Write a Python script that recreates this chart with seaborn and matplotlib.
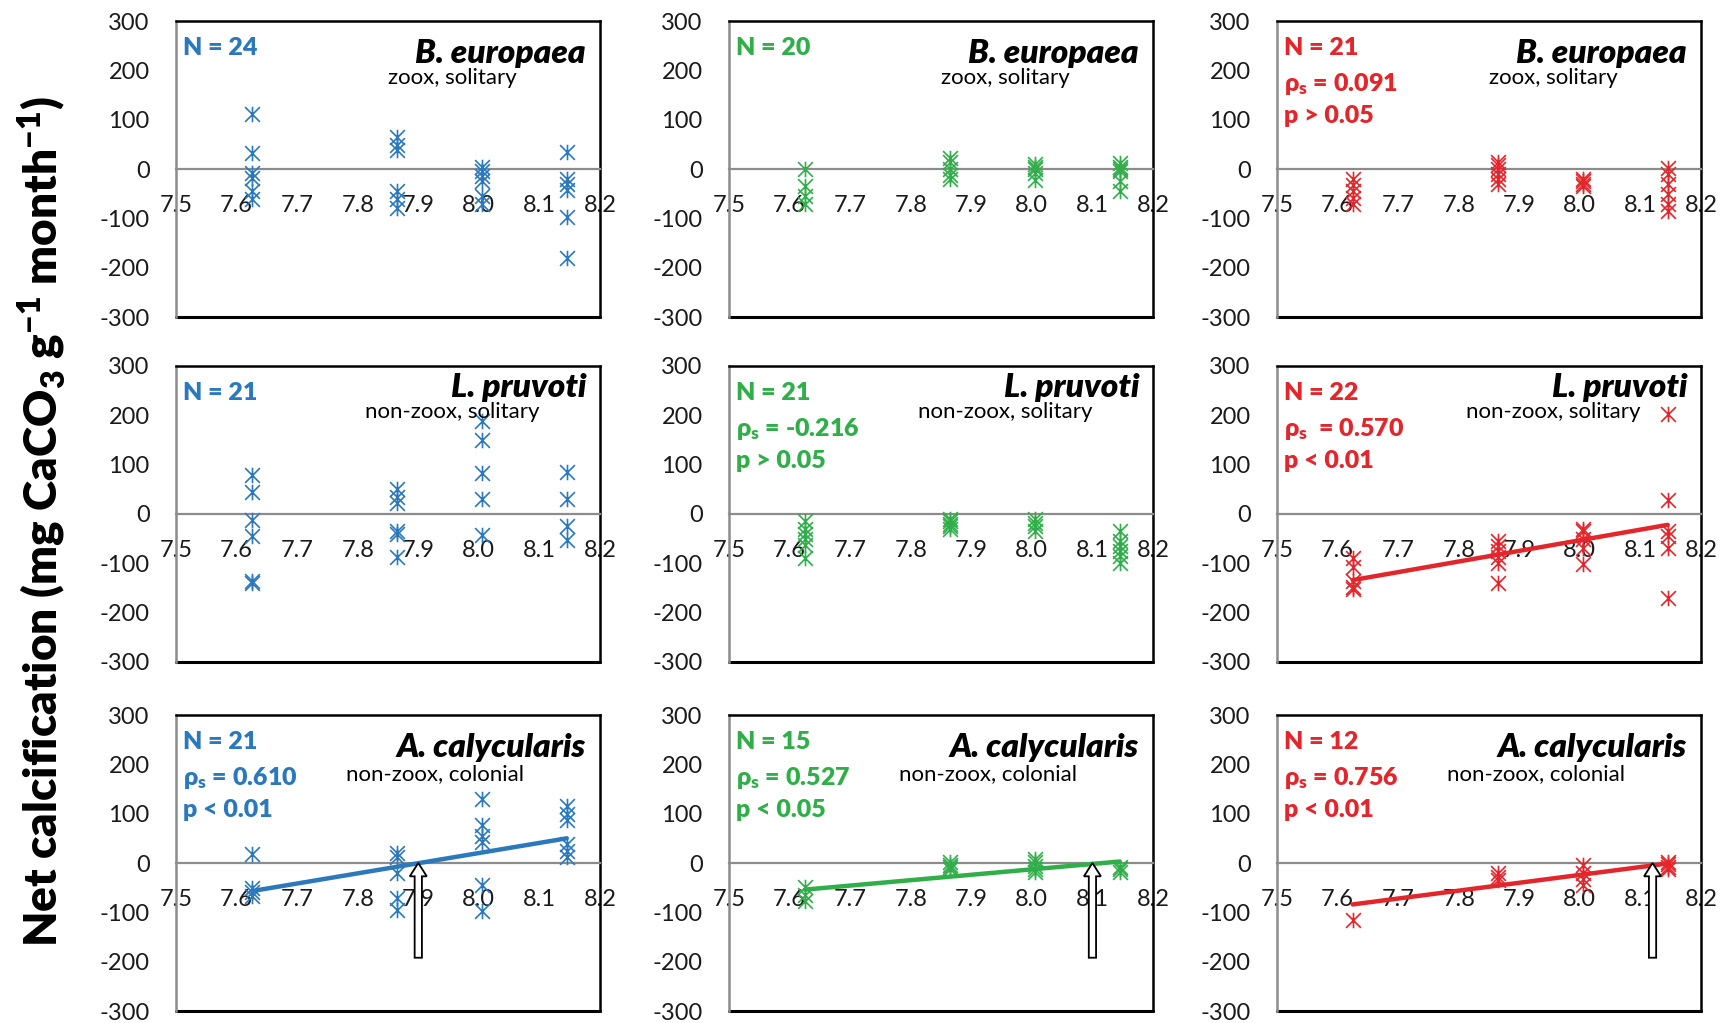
import numpy as np
import pandas as pd
import matplotlib
matplotlib.use("Agg")
import matplotlib.pyplot as plt
from matplotlib.path import Path
import seaborn as sns

# ── Data ──────────────────────────────────────────────────────────────────────

PH_LEVELS = [7.625, 7.865, 8.005, 8.145]
X_TICKS = [7.5, 7.6, 7.7, 7.8, 7.9, 8.0, 8.1, 8.2]
Y_TICKS = [-300, -200, -100, 0, 100, 200, 300]

# net calcification per pH level, one list per level
BE_BLUE = [[111, 33, -8, -18, -45, -60], [65, 48, 38, -45, -60, -80],
           [5, -5, -15, -25, -55, -70], [35, -20, -30, -42, -98, -180]]
BE_GREEN = [[0, -35, -55, -70], [22, 15, 0, -12, -20],
            [10, 5, 0, -8, -22], [12, 5, 0, -5, -25, -45]]
BE_RED = [[-20, -32, -45, -58, -70], [15, 8, 0, -10, -20, -30],
          [-20, -25, -30, -35], [2, -10, -30, -50, -70, -85]]
LP_BLUE = [[80, 45, -12, -45, -135, -140], [50, 35, 22, -35, -40, -88],
           [188, 150, 84, 30, -42], [85, 30, -25, -52]]
LP_GREEN = [[-15, -30, -40, -50, -62, -90], [-10, -15, -20, -25, -30],
            [-10, -18, -25, -35], [-35, -55, -65, -75, -85, -100]]
LP_RED = [[-90, -108, -135, -148, -152], [-55, -65, -75, -88, -100, -140],
          [-30, -35, -50, -68, -102], [202, 28, -35, -45, -68, -170]]
AC_BLUE = [[18, -50, -58, -66], [20, 12, -20, -70, -95],
           [130, 78, 55, 42, -45, -98], [115, 100, 88, 38, 25, 12]]
AC_GREEN = [[-48, -65, -78], [2, -5, -8, -12],
            [8, 3, -6, -12, -18], [-8, -12, -18]]
AC_RED = [[-115], [-20, -28, -35], [-5, -20, -32, -45], [2, -3, -8, -12]]

# linear trend lines (value at first and last pH level)
TREND_X = [7.625, 8.145]
LP_RED_TREND = [-134, -22]
AC_BLUE_TREND = [-57, 50]
AC_GREEN_TREND = [-54, 3]
AC_RED_TREND = [-84, -1]

# pH where the trend crosses zero (arrows in the bottom row)
ARROW_PH = [7.90, 8.10, 8.12]

SPECIES = ["B. europaea", "L. pruvoti", "A. calycularis"]
TRAITS = ["zoox, solitary", "non-zoox, solitary", "non-zoox, colonial"]

STATS = [
    [["N = 24"], ["N = 20"], ["N = 21", "ρ$_\\mathbf{s}$ = 0.091", "p > 0.05"]],
    [["N = 21"], ["N = 21", "ρ$_\\mathbf{s}$ = -0.216", "p > 0.05"],
     ["N = 22", "ρ$_\\mathbf{s}$  = 0.570", "p < 0.01"]],
    [["N = 21", "ρ$_\\mathbf{s}$ = 0.610", "p < 0.01"],
     ["N = 15", "ρ$_\\mathbf{s}$ = 0.527", "p < 0.05"],
     ["N = 12", "ρ$_\\mathbf{s}$ = 0.756", "p < 0.01"]],
]

PANELS = [
    [BE_BLUE, BE_GREEN, BE_RED],
    [LP_BLUE, LP_GREEN, LP_RED],
    [AC_BLUE, AC_GREEN, AC_RED],
]
TRENDS = {(1, 2): LP_RED_TREND, (2, 0): AC_BLUE_TREND,
          (2, 1): AC_GREEN_TREND, (2, 2): AC_RED_TREND}

# ── Style ─────────────────────────────────────────────────────────────────────

COLORS = ["#2B78BD", "#2FAE4A", "#E3262B"]
GRAY = "#8C8C8C"
STAR = Path([(-1, -1), (1, 1), (-1, 1), (1, -1), (0, -1.05), (0, 1.05)],
            [Path.MOVETO, Path.LINETO, Path.MOVETO, Path.LINETO,
             Path.MOVETO, Path.LINETO])

sns.set_theme(style="white")
plt.rcParams["font.family"] = ["Lato", "DejaVu Sans"]
plt.rcParams["mathtext.fontset"] = "custom"
plt.rcParams["mathtext.rm"] = "Lato"
plt.rcParams["mathtext.bf"] = "Lato:heavy"
plt.rcParams["mathtext.it"] = "Lato:italic"

W, H = 1729, 1023
COL_LEFT = [176, 729, 1277]
ROW_TOP = [21, 366, 715]
AX_W, AX_H = 424, 296
TRAIT_POS = [(0.652, 0.84), (0.652, 0.88), (0.61, 0.835)]
NAME_TOP = [0.94, 0.975, 0.94]


def to_frame(values: list[list[float]]) -> pd.DataFrame:
    rows = [(ph, v) for ph, vals in zip(PH_LEVELS, values) for v in vals]
    return pd.DataFrame(rows, columns=["pH", "calc"])


def style_axes(ax: plt.Axes) -> None:
    ax.set_xlim(7.5, 8.2)
    ax.set_ylim(-300, 300)
    ax.set_xticks(X_TICKS)
    ax.set_xticklabels([f"{t:.1f}" for t in X_TICKS])
    ax.set_yticks(Y_TICKS)
    ax.set_yticklabels([str(t) for t in Y_TICKS])
    ax.set_xlabel("")
    ax.set_ylabel("")
    ax.spines["bottom"].set_position(("data", 0))
    ax.spines["bottom"].set_color(GRAY)
    ax.spines["bottom"].set_linewidth(1.6)
    ax.spines["left"].set_color(GRAY)
    ax.spines["left"].set_linewidth(1.8)
    for side in ("top", "right"):
        ax.spines[side].set_color("black")
        ax.spines[side].set_linewidth(1.8)
    ax.axhline(-300, color="black", lw=2.2, clip_on=False, zorder=2.5)
    ax.tick_params(axis="x", direction="out", length=6, width=1.4,
                   color=GRAY, pad=13, labelsize=17, labelcolor="#1a1a1a")
    ax.tick_params(axis="y", direction="out", length=8, width=1.4,
                   color=GRAY, pad=11, labelsize=17, labelcolor="#1a1a1a")
    ax.set_facecolor("white")


fig = plt.figure(figsize=(W / 100, H / 100), dpi=100)

for r in range(3):
    for c in range(3):
        ax = fig.add_axes([COL_LEFT[c] / W, (H - ROW_TOP[r] - AX_H) / H,
                           AX_W / W, AX_H / H])
        color = COLORS[c]
        df = to_frame(PANELS[r][c])
        sns.scatterplot(data=df, x="pH", y="calc", ax=ax, marker=STAR, s=125,
                        color=color, edgecolor=color, linewidth=1.2,
                        zorder=3, clip_on=False)
        if (r, c) in TRENDS:
            sns.lineplot(x=TREND_X, y=TRENDS[(r, c)], ax=ax, color=color,
                         linewidth=3.2, zorder=3.5)
        if r == 2:
            ax.arrow(ARROW_PH[c], -192, 0, 192, width=0.012,
                     head_width=0.028, head_length=27,
                     length_includes_head=True, fc="white", ec="black",
                     lw=1.3, zorder=4)
        style_axes(ax)

        for i, line in enumerate(STATS[r][c]):
            ax.text(0.017, 0.945 - 0.115 * i, line, transform=ax.transAxes,
                    ha="left", va="top", color=color, fontsize=18,
                    fontweight="heavy")
        ax.text(0.967, NAME_TOP[r], SPECIES[r], transform=ax.transAxes,
                ha="right", va="top", fontsize=24, fontweight="heavy",
                fontstyle="italic", color="black")
        tx, ty = TRAIT_POS[r]
        ax.text(tx, ty, TRAITS[r], transform=ax.transAxes, ha="center",
                va="top", fontsize=16, color="black")

fig.text(0.024, 0.49,
         "Net calcification (mg CaCO$_\\mathbf{3}$ g$^\\mathbf{-1}$ "
         "month$^\\mathbf{-1}$)",
         rotation=90, ha="center", va="center", fontsize=33,
         fontweight="heavy", color="black")

fig.savefig("out.png", dpi=100)
